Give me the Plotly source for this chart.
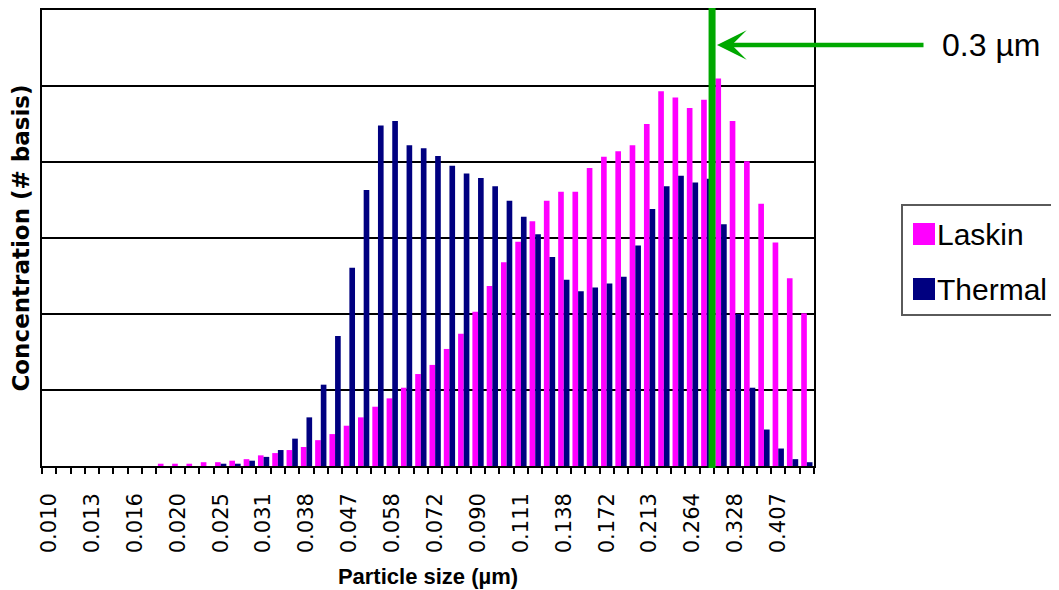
import plotly.graph_objects as go

# ---------------- data ----------------
SIZES_UM = ["0.010", "0.011", "0.012", "0.013", "0.014", "0.015", "0.016", "0.017", "0.019",
            "0.020", "0.021", "0.023", "0.025", "0.027", "0.029", "0.031", "0.033", "0.036",
            "0.038", "0.041", "0.044", "0.047", "0.051", "0.054", "0.058", "0.063", "0.067",
            "0.072", "0.078", "0.083", "0.090", "0.096", "0.103", "0.111", "0.119", "0.128",
            "0.138", "0.148", "0.160", "0.172", "0.184", "0.198", "0.213", "0.229", "0.246",
            "0.264", "0.284", "0.305", "0.328", "0.352", "0.379", "0.407", "0.437", "0.470"]

LASKIN = [0, 0, 0, 0, 0, 0, 0, 0, 0.03,
          0.03, 0.03, 0.05, 0.05, 0.07, 0.09, 0.14, 0.17, 0.21,
          0.25, 0.34, 0.42, 0.53, 0.64, 0.78, 0.89, 1.03, 1.21,
          1.33, 1.54, 1.74, 2.03, 2.37, 2.68, 2.95, 3.22, 3.49,
          3.61, 3.61, 3.92, 4.07, 4.14, 4.22, 4.50, 4.93, 4.85,
          4.71, 4.82, 5.10, 4.54, 4.01, 3.45, 2.94, 2.47, 2.01]

THERMAL = [0, 0, 0, 0, 0, 0, 0, 0, 0,
           0, 0, 0, 0.03, 0.03, 0.07, 0.12, 0.21, 0.36,
           0.64, 1.07, 1.71, 2.61, 3.63, 4.48, 4.54, 4.22, 4.18,
           4.08, 3.95, 3.85, 3.79, 3.68, 3.49, 3.28, 3.05, 2.75,
           2.45, 2.30, 2.35, 2.40, 2.49, 2.90, 3.38, 3.68, 3.82,
           3.73, 3.78, 3.18, 2.00, 1.03, 0.48, 0.23, 0.09, 0.05]

SERIES_NAMES = ["Laskin", "Thermal"]
SERIES_COLORS = ["#FF00FF", "#000080"]
LABEL_EVERY = 3
MARKER_TEXT = "0.3 µm"

# ---------------- layout helpers ----------------
OFF = 8                      # page offset of the figure (body margin)
W, H = 1059 - OFF, 590 - OFF
# plot area, in page pixels
PAGE_L, PAGE_R, PAGE_T, PAGE_B = 42, 814, 10, 466
PL, PR, PT, PB = PAGE_L - OFF, PAGE_R - OFF, PAGE_T - OFF, PAGE_B - OFF


def px_x(page_px):
    return (page_px - PAGE_L) / (PAGE_R - PAGE_L)


def px_y(page_py):
    return (PAGE_B - page_py) / (PAGE_B - PAGE_T)


positions = list(range(len(SIZES_UM)))

fig = go.Figure()
for name, color, vals in zip(SERIES_NAMES, SERIES_COLORS, [LASKIN, THERMAL]):
    fig.add_trace(go.Bar(x=positions, y=vals, name=name,
                         marker=dict(color=color, line=dict(width=0)),
                         showlegend=False))

FONT = "Liberation Sans, Arial, sans-serif"
WIDE = "DejaVu Sans, Liberation Sans, sans-serif"

fig.update_layout(
    width=W, height=H, autosize=False,
    margin=dict(l=PL, r=W - PR, t=PT, b=H - PB, pad=0),
    paper_bgcolor="white", plot_bgcolor="white",
    barmode="group", bargap=0.21, bargroupgap=0,
    font=dict(family=FONT, color="black"),
    xaxis=dict(
        range=[-0.5, len(SIZES_UM) - 0.5],
        tickmode="array",
        tickvals=positions[::LABEL_EVERY],
        ticktext=SIZES_UM[::LABEL_EVERY],
        tickangle=-90,
        ticks="",
        ticklabelstandoff=17,
        tickfont=dict(family=WIDE, size=21, color="black"),
        minor=dict(ticks="outside", tick0=-0.5, dtick=1, ticklen=6,
                   tickwidth=1.5, tickcolor="black", showgrid=False),
        showline=True, linecolor="black", linewidth=1.5, mirror=True,
        showgrid=False, zeroline=False,
        title=dict(text="<b>Particle size (µm)</b>",
                   font=dict(family=FONT, size=22, color="black"),
                   standoff=16),
        automargin=False,
    ),
    yaxis=dict(
        range=[0, 6], dtick=1, tick0=0,
        showticklabels=False, ticks="",
        showgrid=True, gridcolor="black", gridwidth=1.5,
        showline=True, linecolor="black", linewidth=1.5, mirror=True,
        zeroline=False,
        title=dict(text="<b>Concentration (# basis)</b>",
                   font=dict(family=WIDE, size=23, color="black"),
                   standoff=4),
        automargin=False,
    ),
)

GREEN = "#00A800"

shapes = [
    # vertical marker line at 0.3 um
    dict(type="line", xref="x", yref="paper", x0=46.37, x1=46.37,
         y0=px_y(468), y1=px_y(0), line=dict(color=GREEN, width=7), layer="above"),
    # legend box
    dict(type="rect", xref="paper", yref="paper",
         x0=px_x(902), x1=px_x(1075), y0=px_y(315), y1=px_y(205),
         line=dict(color="#5a5a5a", width=2), fillcolor="white", layer="above"),
]
annotations = [
    dict(xref="paper", yref="paper", x=px_x(717), y=px_y(45), text="",
         showarrow=True, ax=208, ay=0, arrowhead=3, arrowsize=1.1,
         arrowwidth=4.5, arrowcolor=GREEN, standoff=0),
    dict(xref="paper", yref="paper", x=px_x(940), y=px_y(45), text=MARKER_TEXT,
         showarrow=False, xanchor="left", yanchor="middle",
         font=dict(family=FONT, size=32, color="black")),
]

legend_rows = [234, 289]
for name, color, yc in zip(SERIES_NAMES, SERIES_COLORS, legend_rows):
    shapes.append(dict(type="rect", xref="paper", yref="paper",
                       x0=px_x(913), x1=px_x(935), y0=px_y(yc + 11), y1=px_y(yc - 11),
                       line=dict(color=color, width=0), fillcolor=color, layer="above"))
    annotations.append(dict(xref="paper", yref="paper", x=px_x(935), y=px_y(yc),
                            text=name, showarrow=False, xanchor="left", yanchor="middle",
                            font=dict(family=FONT, size=30, color="black")))

fig.update_layout(shapes=shapes, annotations=annotations)

fig.write_html("out.html")
